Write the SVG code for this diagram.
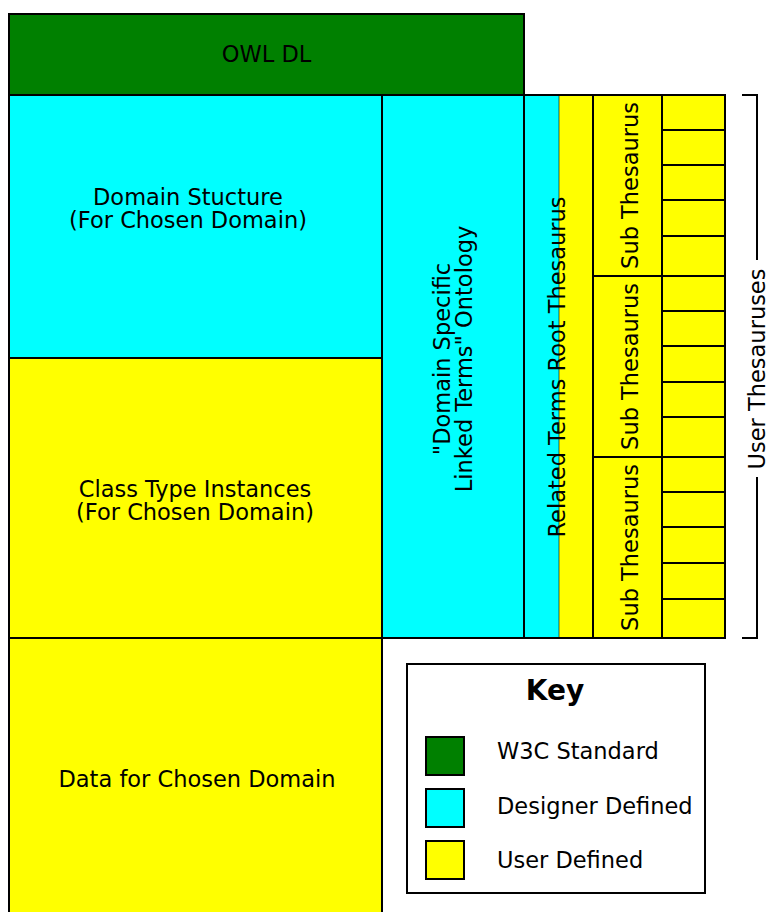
<svg xmlns="http://www.w3.org/2000/svg" width="767" height="912" viewBox="0 0 767 912">
  <style>
    .box { stroke: #000; stroke-width: 2; }
    .g { fill: #008000; }
    .c { fill: #00ffff; }
    .y { fill: #ffff00; }
    .t { font-family: "DejaVu Sans", "Liberation Sans", sans-serif; font-size: 22.5px; fill: #000; }
    .m { text-anchor: middle; }
    .line { stroke: #000; stroke-width: 2; fill: none; }
  </style>
  <rect x="0" y="0" width="767" height="912" fill="#fff"/>

  <g id="owl-dl">
    <rect class="box g" x="9" y="14" width="515" height="81"/>
    <text class="t m" x="266.5" y="62">OWL DL</text>
  </g>

  <g id="domain-structure">
    <rect class="box c" x="9" y="95" width="373" height="263"/>
    <text class="t m" x="188" y="205">Domain Stucture</text>
    <text class="t m" x="188" y="227.5">(For Chosen Domain)</text>
  </g>

  <g id="class-type-instances">
    <rect class="box y" x="9" y="358" width="373" height="280"/>
    <text class="t m" x="195" y="497">Class Type Instances</text>
    <text class="t m" x="195" y="519.5">(For Chosen Domain)</text>
  </g>

  <g id="data-chosen-domain">
    <rect class="box y" x="9" y="638" width="373" height="290"/>
    <text class="t m" x="197" y="787">Data for Chosen Domain</text>
  </g>

  <g id="ontology">
    <rect class="box c" x="382" y="95" width="142" height="543"/>
    <text class="t m" transform="translate(449.5,359) rotate(-90)">"Domain Specific</text>
    <text class="t m" transform="translate(471.5,359) rotate(-90)">Linked Terms" Ontology</text>
  </g>

  <g id="related-terms-root-thesaurus">
    <rect x="524" y="95" width="35" height="543" class="c"/>
    <rect x="559" y="95" width="34" height="543" class="y"/>
    <line x1="559" y1="95" x2="559" y2="638" stroke="#000" stroke-width="0.6"/>
    <rect x="524" y="95" width="69" height="543" class="line"/>
    <text class="t m" transform="translate(565,367) rotate(-90)">Related Terms Root Thesaurus</text>
  </g>

  <g id="sub-thesaurus-1">
    <rect class="box y" x="593" y="95" width="69" height="181"/>
    <text class="t m" transform="translate(638,185.5) rotate(-90)">Sub Thesaurus</text>
  </g>
  <g id="sub-thesaurus-2">
    <rect class="box y" x="593" y="276" width="69" height="181"/>
    <text class="t m" transform="translate(638,366.5) rotate(-90)">Sub Thesaurus</text>
  </g>
  <g id="sub-thesaurus-3">
    <rect class="box y" x="593" y="457" width="69" height="181"/>
    <text class="t m" transform="translate(638,547.5) rotate(-90)">Sub Thesaurus</text>
  </g>

  <g id="user-thesaurus-cells">
    <rect class="box y" x="662" y="95" width="63" height="543"/>
    <g class="line">
      <line x1="662" y1="130" x2="725" y2="130"/>
      <line x1="662" y1="165" x2="725" y2="165"/>
      <line x1="662" y1="200" x2="725" y2="200"/>
      <line x1="662" y1="236" x2="725" y2="236"/>
      <line x1="662" y1="276" x2="725" y2="276"/>
      <line x1="662" y1="311" x2="725" y2="311"/>
      <line x1="662" y1="346" x2="725" y2="346"/>
      <line x1="662" y1="382" x2="725" y2="382"/>
      <line x1="662" y1="417" x2="725" y2="417"/>
      <line x1="662" y1="457" x2="725" y2="457"/>
      <line x1="662" y1="492" x2="725" y2="492"/>
      <line x1="662" y1="527" x2="725" y2="527"/>
      <line x1="662" y1="563" x2="725" y2="563"/>
      <line x1="662" y1="599" x2="725" y2="599"/>
    </g>
  </g>

  <g id="connectors">
    <path class="line" d="M742,95 H757 V260"/>
    <path class="line" d="M757,477 V638 H742"/>
    <text class="t m" transform="translate(765,369) rotate(-90)">User Thesauruses</text>
  </g>

  <g id="key">
    <rect class="box" fill="#fff" x="407" y="664" width="298" height="229"/>
    <text x="555" y="700" text-anchor="middle" font-family="DejaVu Sans, sans-serif" font-weight="bold" font-size="28">Key</text>
    <rect class="box g" x="426" y="737" width="38" height="38"/>
    <text class="t" x="497" y="759">W3C Standard</text>
    <rect class="box c" x="426" y="789" width="38" height="38"/>
    <text class="t" x="497" y="813.5">Designer Defined</text>
    <rect class="box y" x="426" y="841" width="38" height="38"/>
    <text class="t" x="497" y="868">User Defined</text>
  </g>
</svg>
